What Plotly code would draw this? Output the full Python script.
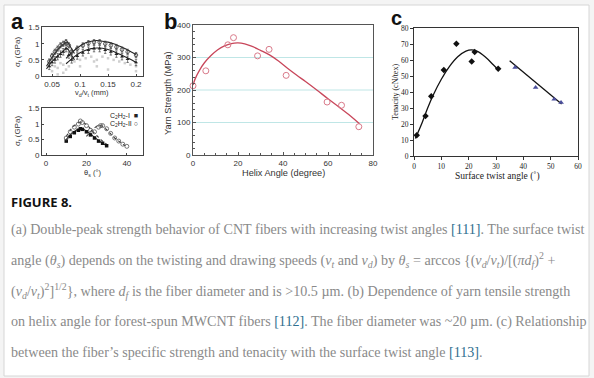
import plotly.graph_objects as go

W, H = 594, 378

# ---------------- Panel a (top): strength vs vd/vt ----------------
a1_open_x = [0.045, 0.05, 0.055, 0.06, 0.065, 0.07, 0.075, 0.08,
             0.085, 0.095, 0.105, 0.115, 0.125, 0.135, 0.145, 0.155, 0.165, 0.175, 0.185, 0.2]
a1_open_y = [0.45, 0.62, 0.75, 0.85, 0.95, 1.0, 1.05, 0.95,
             0.75, 0.85, 0.95, 1.02, 1.05, 1.05, 1.0, 0.95, 0.9, 0.82, 0.75, 0.65]
a1_fill_x = [0.045, 0.05, 0.055, 0.06, 0.065, 0.07, 0.075, 0.08,
             0.085, 0.095, 0.105, 0.115, 0.125, 0.135, 0.145, 0.155, 0.165, 0.175, 0.185, 0.2]
a1_fill_y = [0.3, 0.42, 0.5, 0.6, 0.68, 0.75, 0.85, 0.65,
             0.5, 0.62, 0.72, 0.8, 0.85, 0.85, 0.8, 0.75, 0.68, 0.6, 0.52, 0.42]
a1_gray_x = [0.05, 0.055, 0.06, 0.065, 0.07, 0.075, 0.08, 0.09, 0.1, 0.11, 0.12, 0.125,
             0.13, 0.14, 0.15, 0.16, 0.17, 0.18, 0.19, 0.2, 0.06, 0.07, 0.1, 0.13, 0.15, 0.2]
a1_gray_y = [0.15, 0.3, 0.25, 0.4, 0.35, 0.2, 0.3, 0.45, 0.5, 0.55, 0.6, 0.45,
             0.5, 0.6, 0.55, 0.5, 0.45, 0.4, 0.35, 0.3, 0.05, 0.1, 0.3, 0.3, 0.2, 0.15]
a1_fit1u_x = [0.04, 0.05, 0.06, 0.07, 0.077, 0.083, 0.09]
a1_fit1u_y = [0.3, 0.58, 0.82, 0.98, 1.05, 0.9, 0.7]
a1_fit1l_x = [0.04, 0.05, 0.06, 0.07, 0.077, 0.083, 0.09]
a1_fit1l_y = [0.22, 0.45, 0.62, 0.78, 0.85, 0.7, 0.5]
a1_fit2u_x = [0.075, 0.09, 0.1, 0.11, 0.12, 0.13, 0.14, 0.15, 0.16, 0.17, 0.18, 0.19, 0.2]
a1_fit2u_y = [0.55, 0.8, 0.93, 1.03, 1.08, 1.1, 1.08, 1.05, 1.0, 0.93, 0.85, 0.76, 0.67]
a1_fit2l_x = [0.075, 0.09, 0.1, 0.11, 0.12, 0.13, 0.14, 0.15, 0.16, 0.17, 0.18, 0.19, 0.2]
a1_fit2l_y = [0.38, 0.6, 0.72, 0.8, 0.85, 0.87, 0.86, 0.82, 0.76, 0.68, 0.6, 0.52, 0.42]

# ---------------- Panel a (bottom): strength vs theta_s ----------------
a2_I_x = [10, 12, 14, 16, 17, 18, 20, 22, 24, 26, 28, 30]
a2_I_y = [0.45, 0.6, 0.72, 0.8, 0.85, 0.83, 0.75, 0.65, 0.55, 0.45, 0.38, 0.3]
a2_II_x = [10, 12, 14, 16, 17, 18, 20, 22, 24, 26, 27, 28, 30, 32, 34, 36, 38, 40]
a2_II_y = [0.55, 0.75, 0.9, 1.0, 1.1, 1.05, 0.95, 0.8, 0.75, 0.9, 0.95, 0.95, 0.85, 0.7, 0.55, 0.45, 0.35, 0.28]
a2_fitI_x = [10, 12, 14, 16, 18, 20, 22, 24, 26, 28, 30]
a2_fitI_y = [0.5, 0.65, 0.76, 0.83, 0.84, 0.78, 0.68, 0.57, 0.47, 0.38, 0.3]
a2_fitII_x = [10, 12, 14, 16, 18, 20, 22, 24, 26, 28, 30]
a2_fitII_y = [0.6, 0.8, 0.95, 1.04, 1.06, 0.98, 0.85, 0.7, 0.57, 0.45, 0.35]
a2_fitII2_x = [20, 22, 24, 26, 28, 30, 32, 34, 36, 38, 40]
a2_fitII2_y = [0.6, 0.75, 0.88, 0.95, 0.93, 0.82, 0.68, 0.55, 0.45, 0.35, 0.27]

# ---------------- Panel b: yarn strength vs helix angle ----------------
b_x = [0, 5.7, 15.5, 18, 28.7, 33.8, 41.4, 59.6, 66, 73.7]
b_y = [213, 259, 339, 361, 305, 325, 245, 163, 153, 87]
b_fit_x = [0, 1, 3, 5, 8, 11, 14, 17, 20, 23, 26, 30, 34, 38, 42, 46, 50, 55, 60, 65, 70, 74]
b_fit_y = [215, 235, 262, 283, 306, 324, 336, 343, 345, 342, 335, 322, 308, 289, 267, 246, 226, 200, 173, 147, 120, 96]

# ---------------- Panel c: tenacity vs surface twist angle ----------------
c_blk_x = [1.0, 4.2, 6.3, 10.9, 15.5, 21.1, 22.2, 30.8]
c_blk_y = [12.9, 25, 37.3, 53.7, 70.2, 59.1, 65, 54.6]
c_blu_x = [37.0, 44.5, 51.3, 53.8]
c_blu_y = [55.3, 42.8, 35.5, 33.4]
c_fit1_x = [0.5, 3, 5, 7, 10, 13, 16, 19, 21, 23, 26, 29, 31]
c_fit1_y = [11, 21, 30, 38, 48, 56, 62, 65.5, 66.3, 65.5, 62, 57, 53.5]
c_fit2_x = [35, 54]
c_fit2_y = [59.5, 32.5]

fig = go.Figure()

def px2x(p):
    return p / W

def px2y(p):
    return 1 - p / H

# panel a top traces
ka = dict(xaxis="x", yaxis="y", showlegend=False)
fig.add_trace(go.Scatter(x=a1_gray_x, y=a1_gray_y, mode="markers",
                         marker=dict(symbol="square", size=2.5, color="#cfcfcf"), **ka))
for fx, fy in [(a1_fit1u_x, a1_fit1u_y), (a1_fit1l_x, a1_fit1l_y),
               (a1_fit2u_x, a1_fit2u_y), (a1_fit2l_x, a1_fit2l_y)]:
    fig.add_trace(go.Scatter(x=fx, y=fy, mode="lines", line=dict(color="#222", width=1.1, shape="spline"), **ka))
fig.add_trace(go.Scatter(x=a1_open_x, y=a1_open_y, mode="markers",
                         marker=dict(symbol="circle-open", size=3.5, color="#333", line=dict(width=0.8)),
                         error_y=dict(type="constant", value=0.08, thickness=0.7, width=1.2, color="#444"), **ka))
fig.add_trace(go.Scatter(x=a1_fill_x, y=a1_fill_y, mode="markers",
                         marker=dict(symbol="triangle-up", size=3.5, color="#222"),
                         error_y=dict(type="constant", value=0.1, thickness=0.7, width=1.2, color="#444"), **ka))

# panel a bottom traces
kb = dict(xaxis="x2", yaxis="y2", showlegend=False)
fig.add_trace(go.Scatter(x=a2_fitI_x, y=a2_fitI_y, mode="lines", line=dict(color="#222", width=1.1, shape="spline"), **kb))
fig.add_trace(go.Scatter(x=a2_fitII_x, y=a2_fitII_y, mode="lines", line=dict(color="#333", width=1.1, dash="dot", shape="spline"), **kb))
fig.add_trace(go.Scatter(x=a2_fitII2_x, y=a2_fitII2_y, mode="lines", line=dict(color="#333", width=1.1, dash="dot", shape="spline"), **kb))
fig.add_trace(go.Scatter(x=a2_I_x, y=a2_I_y, mode="markers",
                         marker=dict(symbol="square", size=3.5, color="#111"), **kb))
fig.add_trace(go.Scatter(x=a2_II_x, y=a2_II_y, mode="markers",
                         marker=dict(symbol="circle-open", size=4, color="#555", line=dict(width=0.8)), **kb))

# panel b traces
kc = dict(xaxis="x3", yaxis="y3", showlegend=False)
fig.add_trace(go.Scatter(x=b_fit_x, y=b_fit_y, mode="lines", line=dict(color="#c8465a", width=1.3, shape="spline"), **kc))
fig.add_trace(go.Scatter(x=b_x, y=b_y, mode="markers",
                         marker=dict(symbol="circle-open", size=6, color="#d97a8a", line=dict(width=1)),
                         cliponaxis=False, **kc))

# panel c traces
kd = dict(xaxis="x4", yaxis="y4", showlegend=False)
fig.add_trace(go.Scatter(x=c_fit1_x, y=c_fit1_y, mode="lines", line=dict(color="#111", width=1.3, shape="spline"), **kd))
fig.add_trace(go.Scatter(x=c_fit2_x, y=c_fit2_y, mode="lines", line=dict(color="#111", width=1.3), **kd))
fig.add_trace(go.Scatter(x=c_blk_x, y=c_blk_y, mode="markers",
                         marker=dict(symbol="diamond", size=5, color="#111"), cliponaxis=False, **kd))
fig.add_trace(go.Scatter(x=c_blu_x, y=c_blu_y, mode="markers",
                         marker=dict(symbol="triangle-up", size=5, color="#4b4f9c"), **kd))

sans = "Liberation Sans, Arial, sans-serif"
serif = "Liberation Serif, Times New Roman, serif"
tf_a = dict(family=sans, size=8, color="#333")
tf_c = dict(family=serif, size=7.5, color="#222")

axa = dict(showgrid=False, zeroline=False, showline=True, linecolor="#444", linewidth=1,
           mirror=True, ticks="inside", ticklen=2, tickcolor="#444", tickfont=tf_a, automargin=False)

fig.update_layout(
    width=W, height=H,
    margin=dict(l=0, r=0, t=0, b=0, pad=0, autoexpand=False),
    paper_bgcolor="#f4f4f4", plot_bgcolor="white",
    xaxis=dict(axa, domain=[px2x(42), px2x(143)], range=[0.032, 0.2125],
               tickvals=[0.05, 0.1, 0.15, 0.2], ticktext=["0.05", "0.1", "0.15", "0.2"], anchor="y"),
    yaxis=dict(axa, domain=[px2y(76), px2y(27)], range=[0, 1.52],
               tickvals=[0, 0.5, 1, 1.5], ticktext=["0", "0.5", "1", "1.5"], anchor="x"),
    xaxis2=dict(axa, domain=[px2x(42), px2x(143)], range=[-2, 48],
                tickvals=[0, 20, 40], anchor="y2"),
    yaxis2=dict(axa, domain=[px2y(155), px2y(108)], range=[0, 1.52],
                tickvals=[0, 0.5, 1, 1.5], ticktext=["0", "0.5", "1", "1.5"], anchor="x2"),
    xaxis3=dict(showgrid=False, zeroline=False, showline=True, linecolor="#555", linewidth=1, mirror=True,
                ticks="inside", ticklen=3, tickcolor="#555", tickfont=tf_a, automargin=False,
                domain=[px2x(193), px2x(373)], range=[0, 80], tickvals=[0, 20, 40, 60, 80],
                minor=dict(ticks="inside", ticklen=2, dtick=5, tickcolor="#555"), anchor="y3"),
    yaxis3=dict(showgrid=False, zeroline=False, showline=True, linecolor="#555", linewidth=1, mirror=True,
                ticks="inside", ticklen=3, tickcolor="#555", tickfont=tf_a, automargin=False,
                domain=[px2y(155), px2y(25)], range=[0, 400], tickvals=[0, 100, 200, 300, 400],
                minor=dict(ticks="inside", ticklen=2, dtick=20, tickcolor="#555"), anchor="x3"),
    xaxis4=dict(showgrid=False, zeroline=False, showline=True, linecolor="#333", linewidth=1, mirror=True,
                ticks="outside", ticklen=3, tickcolor="#333", tickfont=tf_c, automargin=False,
                domain=[px2x(414), px2x(578)], range=[0, 60], dtick=10, anchor="y4"),
    yaxis4=dict(showgrid=False, zeroline=False, showline=True, linecolor="#333", linewidth=1, mirror=True,
                ticks="outside", ticklen=3, tickcolor="#333", tickfont=tf_c, automargin=False,
                domain=[px2y(156), px2y(28)], range=[0, 80], dtick=10, anchor="x4"),
)

# panel b light grid lines at 100/200/300
for gv in [100, 200, 300]:
    fig.add_shape(type="line", xref="x3", yref="y3", x0=0, x1=80, y0=gv, y1=gv,
                  line=dict(color="#bfe6e6", width=1), layer="below")

# card background
fig.add_shape(type="rect", xref="paper", yref="paper", x0=px2x(4), x1=px2x(589),
              y0=px2y(376), y1=px2y(5), line=dict(color="#d6d6d6", width=1),
              fillcolor="white", layer="below")

ann = []
def A(text, x, y, **kw):
    d = dict(text=text, x=px2x(x), y=px2y(y), xref="paper", yref="paper", showarrow=False,
             xanchor=kw.pop("xanchor", "center"), yanchor=kw.pop("yanchor", "middle"))
    d.update(kw)
    ann.append(d)

# panel letters
A("<b>a</b>", 9, 22, xanchor="left", font=dict(family=sans, size=22, color="#111"))
A("<b>b</b>", 162, 22, xanchor="left", font=dict(family=sans, size=22, color="#111"))
A("<b>c</b>", 389, 18, xanchor="left", font=dict(family=sans, size=20, color="#111"))

# axis titles panel a
A("σ<sub>t</sub> (GPa)", 18, 52, textangle=-90, font=dict(family=sans, size=8, color="#333"))
A("σ<sub>t</sub> (GPa)", 18, 131, textangle=-90, font=dict(family=sans, size=8, color="#333"))
A("v<sub>d</sub>/v<sub>t</sub> (mm)", 92, 93, font=dict(family=sans, size=7.5, color="#333"))
A("θ<sub>s</sub> (°)", 92, 173, font=dict(family=sans, size=7.5, color="#333"))
# legend panel a bottom
A("C<sub>2</sub>H<sub>2</sub>-I  ■", 140, 116, xanchor="right", font=dict(family=sans, size=7, color="#222"))
A("C<sub>2</sub>H<sub>2</sub>-II ○", 140, 124, xanchor="right", font=dict(family=sans, size=7, color="#222"))

# axis titles panel b
A("Yarn Strength (MPa)", 168, 93, textangle=-90, font=dict(family=sans, size=9.2, color="#333"))
A("Helix Angle (degree)", 283, 173, font=dict(family=sans, size=9.2, color="#333"))

# axis titles panel c
A("Tenacity (cN/tex)", 395, 92, textangle=-90, font=dict(family=serif, size=8, color="#222"))
A("Surface twist angle (˚)", 497, 176, font=dict(family=serif, size=9.5, color="#222"))

# caption
A("<b>FIGURE 8.</b>", 9, 202, xanchor="left", font=dict(family="Open Sans, sans-serif", size=13, color="#111"))

ref = "<span style='color:#2f6f8f'>[{}]</span>"
cap_lines = [
    "(a) Double-peak strength behavior of CNT fibers with increasing twist angles " + ref.format(111) + ". The surface twist",
    "angle (<i>θ<sub>s</sub></i>) depends on the twisting and drawing speeds (<i>v<sub>t</sub></i> and <i>v<sub>d</sub></i>) by <i>θ<sub>s</sub></i> = arccos {(<i>v<sub>d</sub></i>/<i>v<sub>t</sub></i>)/[(<i>πd<sub>f</sub></i>)<sup>2</sup> +",
    "(<i>v<sub>d</sub></i>/<i>v<sub>t</sub></i>)<sup>2</sup>]<sup>1/2</sup>}, where <i>d<sub>f</sub></i> is the fiber diameter and is >10.5 µm. (b) Dependence of yarn tensile strength",
    "on helix angle for forest-spun MWCNT fibers " + ref.format(112) + ". The fiber diameter was ~20 µm. (c) Relationship",
    "between the fiber’s specific strength and tenacity with the surface twist angle " + ref.format(113) + ".",
]
cap_y = [229, 260, 290.5, 321, 352]
for t, yy in zip(cap_lines, cap_y):
    A(t, 9, yy, xanchor="left", font=dict(family=serif, size=14.1, color="#8a8a8a"))

fig.update_layout(annotations=ann)
fig.write_html("out.html", config={"displayModeBar": False},
               post_script="document.body.style.margin='0px';")
